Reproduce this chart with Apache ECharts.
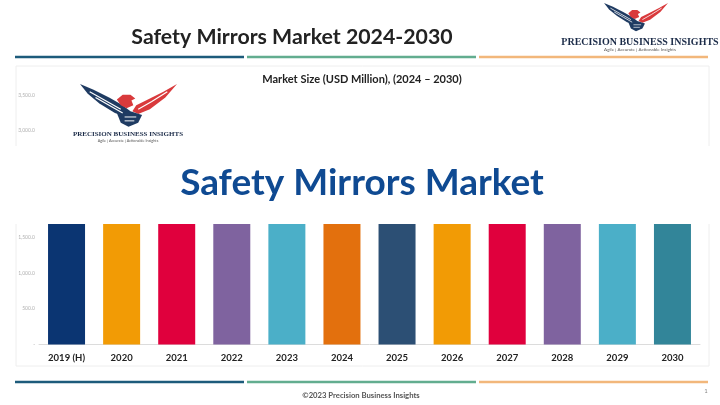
<!DOCTYPE html>
<html>
<head>
<meta charset="utf-8">
<script src="https://cdn.jsdelivr.net/npm/echarts@6/dist/echarts.min.js"></script>
<style>
html,body{margin:0;padding:0;background:#fff;}
#chart{width:720px;height:405px;}
</style>
</head>
<body>
<div id="chart"></div>
<script>
// ---- data ----
const categories = ['2019 (H)','2020','2021','2022','2023','2024','2025','2026','2027','2028','2029','2030'];
// bar tops are hidden behind the title banner in the reference; values estimated
const marketSize = [1850, 1910, 1980, 2050, 2120, 2200, 2280, 2360, 2440, 2530, 2620, 2700];
const barColors = ['#0b3572','#f29b05','#e0003d','#7f639f','#4bafc8','#e3700d','#2c4f74','#f29b05','#e0003d','#7f639f','#4bafc8','#328599'];
const yTicks = {min: 0, max: 3500, interval: 500};
const pageTitle = 'Safety Mirrors Market 2024-2030';
const chartTitle = 'Market Size (USD Million), (2024 – 2030)';
const bannerTitle = 'Safety Mirrors Market';
const footerText = '©2023 Precision Business Insights';

const chart = echarts.init(document.getElementById('chart'), null, {renderer: 'canvas'});

function eagle(x, y, s, z) {
  const navy = '#1f3b62', red = '#d93a3c';
  return {
    type: 'group', x: x, y: y, scaleX: s, scaleY: s, z: z,
    children: [
      {type: 'polygon', z: z, shape: {points: [[0,0],[14,6],[30,14],[44,22],[52,28],[48,34],[36,30],[20,20],[8,10]]}, style: {fill: navy}},
      {type: 'polyline', z: z+1, shape: {points: [[10,8],[26,17],[42,26]]}, style: {stroke: '#fff', lineWidth: 1.2, fill: null}},
      {type: 'polyline', z: z+1, shape: {points: [[16,14],[30,22],[44,30]]}, style: {stroke: '#fff', lineWidth: 1.2, fill: null}},
      {type: 'polygon', z: z, shape: {points: [[100,0],[86,8],[70,16],[58,22],[54,28],[60,31],[72,26],[88,14]]}, style: {fill: red}},
      {type: 'polyline', z: z+1, shape: {points: [[90,8],[74,18],[60,26]]}, style: {stroke: '#fff', lineWidth: 1.2, fill: null}},
      {type: 'polygon', z: z, shape: {points: [[38,16],[44,11],[52,11],[57,15],[53,17],[55,22],[48,25],[42,22]]}, style: {fill: red}},
      {type: 'polygon', z: z, shape: {points: [[38,30],[52,28],[64,32],[60,40],[50,44],[42,40]]}, style: {fill: navy}},
      {type: 'polyline', z: z+1, shape: {points: [[46,34],[58,34]]}, style: {stroke: '#fff', lineWidth: 1, fill: null}},
      {type: 'polyline', z: z+1, shape: {points: [[46,38],[56,38]]}, style: {stroke: '#fff', lineWidth: 1, fill: null}}
    ]
  };
}

function ruleLines(y) {
  return [
    {type: 'line', z: 50, shape: {x1: 15, y1: y, x2: 244, y2: y}, style: {stroke: '#1d5b7b', lineWidth: 2.5}},
    {type: 'line', z: 50, shape: {x1: 247, y1: y, x2: 476, y2: y}, style: {stroke: '#62ad8f', lineWidth: 2.5}},
    {type: 'line', z: 50, shape: {x1: 479, y1: y, x2: 708, y2: y}, style: {stroke: '#f2b77b', lineWidth: 2.5}}
  ];
}

const option = {
  animation: false,
  backgroundColor: '#fff',
  grid: {left: 39, right: 20, top: 95, bottom: 60.5},
  xAxis: {
    type: 'category',
    data: categories,
    axisLine: {lineStyle: {color: '#dcdcdc', width: 1}},
    axisTick: {show: false},
    axisLabel: {color: '#222', fontFamily: 'Lato', fontWeight: 'bold', fontSize: 9.5, margin: 8}
  },
  yAxis: {
    type: 'value',
    min: yTicks.min, max: yTicks.max, interval: yTicks.interval,
    splitLine: {show: false},
    axisLine: {show: false},
    axisTick: {show: false},
    axisLabel: {
      color: '#b0b0b0', fontSize: 5, fontFamily: 'Lato', margin: 4,
      formatter: v => v === 0 ? '-' : v.toLocaleString('en-US', {minimumFractionDigits: 1, maximumFractionDigits: 1})
    }
  },
  series: [{
    type: 'bar',
    data: marketSize.map((v, i) => ({value: v, itemStyle: {color: barColors[i]}})),
    barWidth: 37
  }],
  graphic: {
    elements: [
      // panel
      {type: 'rect', z: -1, shape: {x: 16, y: 66, width: 693, height: 300}, style: {fill: 'rgba(0,0,0,0)', stroke: '#eeeeee', lineWidth: 1}, silent: true},
      // page title
      {type: 'text', z: 50, x: 292, y: 37, style: {text: pageTitle, fill: '#222', font: 'bold 21.3px Lato', textAlign: 'center', textVerticalAlign: 'middle'}},
      ...ruleLines(57),
      ...ruleLines(382),
      // top-right logo
      eagle(604, 3, 0.64, 60),
      {type: 'text', z: 60, x: 640, y: 42, style: {text: 'PRECISION BUSINESS INSIGHTS', fill: '#1b2b48', font: 'bold 10px "Liberation Serif"', textAlign: 'center', textVerticalAlign: 'middle'}},
      {type: 'text', z: 60, x: 640, y: 50, style: {text: 'Agile | Accurate | Actionable Insights', fill: '#555', font: '4.5px Lato', textAlign: 'center', textVerticalAlign: 'middle'}},
      // chart title
      {type: 'text', z: 50, x: 362, y: 79, style: {text: chartTitle, fill: '#222', font: 'bold 11px Lato', textAlign: 'center', textVerticalAlign: 'middle'}},
      // white banner covering top of the chart
      {type: 'rect', z: 100, shape: {x: 8, y: 146, width: 704, height: 78}, style: {fill: '#fff'}, silent: true},
      {type: 'text', z: 101, x: 362, y: 183, style: {text: bannerTitle, fill: '#0f4a92', font: 'bold 37px Lato', textAlign: 'center', textVerticalAlign: 'middle'}},
      // left logo
      {type: 'rect', z: 100, shape: {x: 70, y: 80, width: 120, height: 66}, style: {fill: '#fff'}, silent: true},
      eagle(80, 84, 0.97, 101),
      {type: 'text', z: 102, x: 128, y: 134, style: {text: 'PRECISION BUSINESS INSIGHTS', fill: '#1b2b48', font: 'bold 7px "Liberation Serif"', textAlign: 'center', textVerticalAlign: 'middle'}},
      {type: 'text', z: 102, x: 128, y: 141, style: {text: 'Agile | Accurate | Actionable Insights', fill: '#555', font: '3.8px Lato', textAlign: 'center', textVerticalAlign: 'middle'}},
      // footer
      {type: 'text', z: 50, x: 361, y: 396, style: {text: footerText, fill: '#555', font: 'bold 7.7px Lato', textAlign: 'center', textVerticalAlign: 'middle'}},
      {type: 'text', z: 50, x: 706, y: 391, style: {text: '1', fill: '#888', font: '6px Lato', textAlign: 'center', textVerticalAlign: 'middle'}}
    ]
  }
};
chart.setOption(option);
</script>
</body>
</html>
